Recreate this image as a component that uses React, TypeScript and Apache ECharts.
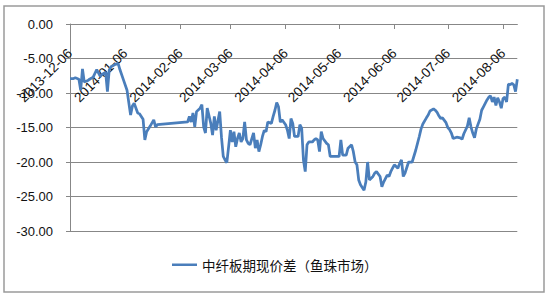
import React, { useEffect, useRef } from "react";
import * as echarts from "echarts";

const seriesName = "中纤板期现价差（鱼珠市场）";
const startDate = "2013-12-06";
const endDate = "2014-08-14";

const dates = [
  "2013-12-06","2013-12-08","2013-12-09","2013-12-11","2013-12-12","2013-12-13","2013-12-14","2013-12-16","2013-12-17","2013-12-19","2013-12-21","2013-12-23","2013-12-24","2013-12-26","2013-12-27","2013-12-28","2013-12-29","2013-12-31",
  "2014-01-02","2014-01-03","2014-01-05","2014-01-07","2014-01-09","2014-01-10","2014-01-11","2014-01-13","2014-01-14","2014-01-16","2014-01-17","2014-01-18","2014-01-20","2014-01-22","2014-01-23","2014-01-24",
  "2014-02-10","2014-02-11","2014-02-12","2014-02-13","2014-02-14","2014-02-15","2014-02-17","2014-02-18","2014-02-19","2014-02-20","2014-02-21","2014-02-23","2014-02-24","2014-02-25","2014-02-26","2014-02-28",
  "2014-03-01","2014-03-02","2014-03-03","2014-03-04","2014-03-05","2014-03-06","2014-03-07","2014-03-08","2014-03-09","2014-03-10","2014-03-11","2014-03-12","2014-03-13","2014-03-14","2014-03-15","2014-03-16","2014-03-17","2014-03-19","2014-03-20","2014-03-21","2014-03-22","2014-03-23","2014-03-24","2014-03-25","2014-03-26","2014-03-27","2014-03-29","2014-03-30","2014-03-31",
  "2014-04-01","2014-04-02","2014-04-03","2014-04-04","2014-04-06","2014-04-07","2014-04-08","2014-04-09","2014-04-10","2014-04-11","2014-04-13","2014-04-14","2014-04-15","2014-04-16","2014-04-17","2014-04-18","2014-04-19","2014-04-21","2014-04-22","2014-04-23","2014-04-24","2014-04-25","2014-04-26","2014-04-27","2014-04-29","2014-04-30",
  "2014-05-01","2014-05-03","2014-05-05","2014-05-06","2014-05-07","2014-05-08","2014-05-10","2014-05-11","2014-05-13","2014-05-14","2014-05-15","2014-05-16","2014-05-17","2014-05-18","2014-05-20","2014-05-21","2014-05-22","2014-05-23","2014-05-25","2014-05-26","2014-05-27","2014-05-29","2014-05-30","2014-05-31",
  "2014-06-02","2014-06-03","2014-06-04","2014-06-05","2014-06-06","2014-06-08","2014-06-09","2014-06-10","2014-06-11","2014-06-12","2014-06-14","2014-06-16","2014-06-18","2014-06-19","2014-06-20","2014-06-21","2014-06-22","2014-06-24","2014-06-25","2014-06-26","2014-06-28","2014-06-29","2014-06-30",
  "2014-07-01","2014-07-02","2014-07-03","2014-07-05","2014-07-06","2014-07-07","2014-07-08","2014-07-09","2014-07-11","2014-07-13","2014-07-14","2014-07-15","2014-07-17","2014-07-18","2014-07-19","2014-07-20","2014-07-21","2014-07-22","2014-07-24","2014-07-25","2014-07-26","2014-07-27","2014-07-28","2014-07-29","2014-07-30","2014-07-31",
  "2014-08-01","2014-08-02","2014-08-03","2014-08-04","2014-08-05","2014-08-06","2014-08-07","2014-08-08","2014-08-09","2014-08-10","2014-08-11","2014-08-12","2014-08-13","2014-08-14",
];

const values = [
  -7.9,-7.9,-7.8,-8.0,-9.6,-6.5,-8.4,-8.2,-8.0,-7.7,-6.6,-7.6,-7.3,-7.0,-9.8,-6.7,-6.2,-5.9,
  -5.7,-6.6,-8.1,-9.6,-13.2,-11.9,-11.5,-12.9,-13.0,-13.8,-16.8,-15.6,-14.8,-13.9,-14.9,-14.6,
  -14.2,-13.4,-14.2,-12.9,-14.9,-12.7,-12.2,-11.7,-14.9,-15.8,-12.2,-14.4,-16.1,-13.4,-15.4,-12.7,
  -16.4,-19.2,-19.7,-20.1,-17.8,-15.4,-17.1,-15.6,-17.8,-16.6,-15.8,-17.1,-16.6,-14.2,-16.8,-17.3,-17.5,-15.8,-18.0,-16.8,-18.5,-17.5,-16.3,-15.4,-15.6,-14.2,-14.4,-13.4,-12.5,
  -11.4,-12.0,-14.2,-13.9,-14.6,-15.4,-16.6,-13.7,-14.4,-16.3,-16.3,-14.6,-15.1,-19.7,-21.4,-17.5,-17.1,-17.1,-16.8,-16.6,-16.8,-18.5,-15.6,-16.6,-17.3,-17.5,
  -19.2,-19.2,-19.2,-19.2,-16.8,-19.0,-19.0,-18.0,-17.5,-18.5,-20.0,-20.4,-22.6,-23.3,-24.1,-22.9,-20.0,-22.6,-22.1,-21.6,-21.4,-22.1,-23.6,-22.9,
  -21.9,-22.1,-21.4,-20.9,-20.4,-20.9,-20.2,-19.7,-22.1,-21.6,-20.0,-20.0,-18.3,-17.3,-16.3,-15.2,-14.5,-13.6,-13.2,-12.6,-12.3,-12.5,-12.8,
  -13.3,-13.7,-13.6,-14.3,-15.0,-15.3,-15.8,-16.6,-16.4,-16.5,-16.7,-15.9,-14.8,-13.6,-14.9,-15.8,-16.5,-15.2,-13.8,-12.5,-12.0,-11.5,-11.0,-10.6,-10.4,-11.3,
  -10.6,-11.8,-10.7,-11.3,-12.2,-10.8,-10.6,-11.3,-8.7,-8.8,-8.6,-8.8,-9.8,-8.0,
];

function buildDays(start: string, end: string): string[] {
  const [sy, sm, sd] = start.split("-").map(Number);
  const [ey, em, ed] = end.split("-").map(Number);
  let t = Date.UTC(sy, sm - 1, sd);
  const e = Date.UTC(ey, em - 1, ed);
  const out: string[] = [];
  while (t <= e) {
    const d = new Date(t);
    const s =
      d.getUTCFullYear() +
      "-" +
      String(d.getUTCMonth() + 1).padStart(2, "0") +
      "-" +
      String(d.getUTCDate()).padStart(2, "0");
    out.push(s);
    t += 86400000;
  }
  return out;
}

export default function App() {
  const ref = useRef<HTMLDivElement>(null);
  useEffect(() => {
    if (!ref.current) return;
    const chart = echarts.init(ref.current, undefined, { renderer: "svg" });
    const days = buildDays(startDate, endDate);
    const lookup: Record<string, number> = {};
    dates.forEach((d, i) => (lookup[d] = values[i]));
    const seriesData = days.map((d) => (d in lookup ? lookup[d] : null));
    const isTickDay = (_i: number, v: string) => String(v).slice(8) === "06";
    const gridColor = "#878787";
    const font = "'Liberation Sans', Arial, sans-serif";
    chart.setOption({
      animation: false,
      backgroundColor: "#ffffff",
      grid: {
        left: 70,
        right: 32.7,
        top: 24,
        bottom: 69,
        containLabel: false,
        outerBoundsMode: "none",
      },
      legend: {
        show: true,
        left: 167,
        top: 253,
        itemWidth: 25,
        itemHeight: 14,
        icon: "path://M0,6 L26,6 L26,8.6 L0,8.6 Z",
        textStyle: {
          fontFamily: "'Noto Sans CJK SC', sans-serif",
          fontSize: 13.5,
          color: "#111",
        },
        data: [seriesName],
      },
      xAxis: {
        type: "category",
        data: days,
        boundaryGap: false,
        position: "top",
        axisLine: { show: true, onZero: false, lineStyle: { color: gridColor, width: 1 } },
        axisTick: { show: true, inside: true, interval: isTickDay, length: 5, lineStyle: { color: gridColor } },
        axisLabel: {
          show: true,
          inside: true,
          interval: isTickDay,
          rotate: -45,
          margin: 27,
          fontSize: 13.5,
          fontFamily: font,
          color: "#111",
        },
        splitLine: { show: false },
      },
      yAxis: {
        type: "value",
        min: -30,
        max: 0,
        interval: 5,
        axisLine: { show: true, lineStyle: { color: gridColor, width: 1 } },
        axisTick: { show: true, length: 4, lineStyle: { color: gridColor } },
        axisLabel: {
          margin: 17,
          fontSize: 13,
          fontFamily: font,
          color: "#111",
          formatter: (v: number) => v.toFixed(2),
        },
        splitLine: { show: true, lineStyle: { color: gridColor, width: 1 } },
      },
      graphic: [
        {
          type: "rect",
          shape: { x: 4, y: 6, width: 540, height: 286 },
          style: { fill: "none", stroke: "#9a9a9a", lineWidth: 1.5 },
          silent: true,
        },
      ],
      series: [
        {
          name: seriesName,
          type: "line",
          data: seriesData,
          connectNulls: true,
          symbol: "none",
          lineStyle: { color: "#4a7ebb", width: 2.75 },
          itemStyle: { color: "#4a7ebb" },
        },
      ],
    });
    return () => chart.dispose();
  }, []);
  return (
    <div
      ref={ref}
      style={{ position: "fixed", left: 0, top: 0, width: 550, height: 300, background: "#fff" }}
    />
  );
}
